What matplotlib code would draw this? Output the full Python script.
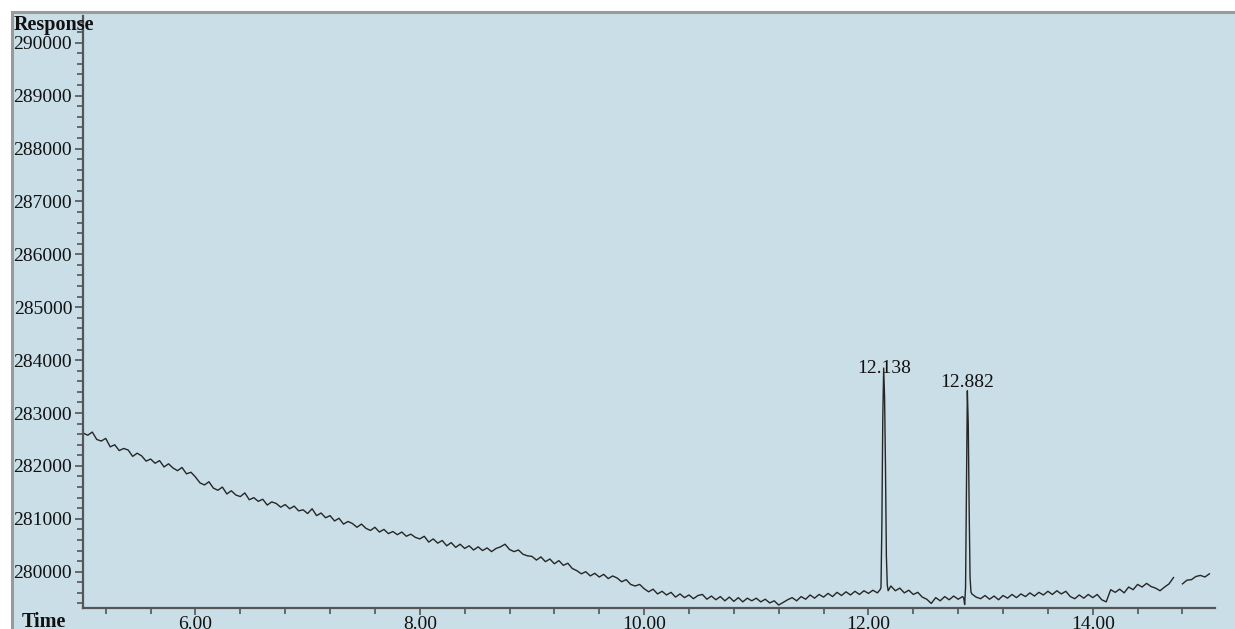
import numpy as np
import matplotlib
matplotlib.use('Agg')
from matplotlib import pyplot as plt
from matplotlib.patches import Rectangle
from matplotlib.ticker import MultipleLocator, FormatStrFormatter

# baseline trace, one value every 0.04 min starting at 5.00
base_start = 5.00
base_step = 0.04
base_resp = [
    # 5.00 - 5.96
    282620, 282580, 282640, 282500, 282470, 282520, 282360, 282400, 282290, 282330,
    282300, 282180, 282240, 282190, 282090, 282130, 282050, 282100, 281980, 282040,
    281960, 281910, 281970, 281850, 281880,
    # 6.00 - 6.96
    281790, 281680, 281640, 281700, 281580, 281540, 281600, 281470, 281530, 281450,
    281420, 281490, 281360, 281400, 281330, 281370, 281260, 281320, 281290, 281220,
    281270, 281190, 281240, 281150, 281170,
    # 7.00 - 7.96
    281100, 281190, 281060, 281110, 281020, 281060, 280960, 281010, 280900, 280950,
    280910, 280840, 280900, 280820, 280780, 280840, 280750, 280800, 280720, 280760,
    280700, 280750, 280670, 280710, 280650,
    # 8.00 - 8.96
    280620, 280670, 280560, 280620, 280540, 280590, 280490, 280550, 280460, 280520,
    280440, 280490, 280410, 280470, 280400, 280450, 280380, 280440, 280470, 280520,
    280420, 280380, 280410, 280330, 280300,
    # 9.00 - 9.96
    280290, 280220, 280280, 280190, 280240, 280150, 280210, 280120, 280160, 280060,
    280020, 279960, 280000, 279920, 279970, 279900, 279950, 279870, 279920, 279880,
    279810, 279850, 279760, 279730, 279760,
    # 10.00 - 10.96
    279680, 279620, 279670, 279580, 279630, 279560, 279610, 279520, 279580, 279510,
    279560, 279490, 279550, 279570, 279480, 279540, 279470, 279530, 279450, 279520,
    279440, 279510, 279430, 279500, 279450,
    # 11.00 - 11.96
    279500, 279430, 279480, 279410, 279450, 279370, 279420, 279470, 279510, 279450,
    279530, 279480, 279560, 279500, 279570, 279520, 279590, 279530, 279610, 279550,
    279620, 279560, 279630, 279570, 279640,
    # 12.00 - 12.96
    279590, 279650, 279600, 279650, 279660, 279730, 279640, 279690, 279600, 279650,
    279570, 279610, 279520, 279480, 279400, 279510, 279450, 279530, 279470, 279540,
    279480, 279530, 279500, 279590, 279520,
    # 13.00 - 13.96
    279490, 279550, 279480, 279540, 279470, 279550, 279500, 279570, 279510, 279580,
    279530, 279600, 279540, 279610, 279560, 279630, 279570, 279640, 279580, 279630,
    279530, 279490, 279560, 279500, 279570,
    # 14.00 - 14.96
    279510, 279570, 279470, 279430, 279660, 279610, 279670, 279600, 279710, 279660,
    279760, 279710, 279780, 279720, 279690, 279640, 279710, 279770, 279890, np.nan,
    279770, 279840, 279850, 279910, 279930,
    # 15.00 - 15.04
    279900, 279960,
]

# the two peaks, sampled more finely
peak_time = [12.104, 12.112, 12.120, 12.128, 12.136, 12.144, 12.152, 12.160, 12.168, 12.176,
             12.850, 12.858, 12.866, 12.874, 12.882, 12.890, 12.898, 12.906, 12.914, 12.922]
peak_resp = [279660, 279700, 280900, 282900, 283850, 283300, 282000, 280300, 279750, 279640,
             279500, 279380, 279700, 281500, 283420, 282800, 281200, 279900, 279620, 279580]
peak_windows = [(12.100, 12.180), (12.846, 12.926)]

peak_labels = ['12.138', '12.882']
label_time = [12.138, 12.882]
label_resp = [283760, 283500]

base_time = base_start + base_step * np.arange(len(base_resp))
base_resp = np.array(base_resp, dtype=float)
keep = np.ones(len(base_time), dtype=bool)
for lo, hi in peak_windows:
    keep &= ~((base_time >= lo) & (base_time <= hi))

time = np.concatenate([base_time[keep], peak_time])
resp = np.concatenate([base_resp[keep], peak_resp])
order = np.argsort(time)
time = time[order]
resp = resp[order]

W, H = 1235, 629
bg = '#c9dee6'
plt.rcParams['font.family'] = ['Liberation Serif', 'DejaVu Serif']

fig = plt.figure(figsize=(W / 100, H / 100), dpi=100, facecolor='white')
# light blue panel with the grey frame on top and left
fig.patches.append(Rectangle((12 / W, -0.2), 1.5, 1 - 12 / H + 0.2, transform=fig.transFigure,
                             facecolor=bg, edgecolor='#9a9a9a', linewidth=2.2, zorder=-10))

ax = fig.add_axes([83.3 / W, 21 / H, (1215 - 83.3) / W, (608 - 16) / H])
ax.set_zorder(5)
ax.set_facecolor('none')
ax.plot(time, resp, color='#262626', linewidth=1.0)

for lab, t, r in zip(peak_labels, label_time, label_resp):
    ax.text(t, r, lab, ha='center', va='baseline', fontsize=14, color='#111111')

ax.set_xlim(5.0, 15.09)
ax.set_ylim(279314, 290505)

ax.xaxis.set_major_locator(MultipleLocator(2.0))
ax.xaxis.set_minor_locator(MultipleLocator(0.4))
ax.xaxis.set_major_formatter(FormatStrFormatter('%.2f'))
ax.yaxis.set_major_locator(MultipleLocator(1000))
ax.yaxis.set_minor_locator(MultipleLocator(200))
ax.yaxis.set_major_formatter(FormatStrFormatter('%d'))

for side in ['top', 'right']:
    ax.spines[side].set_visible(False)
for side in ['left', 'bottom']:
    ax.spines[side].set_color('#555555')
    ax.spines[side].set_linewidth(1.6)

ax.tick_params(which='major', length=6, width=1.2, color='#555555', labelsize=14,
               labelcolor='#111111', pad=2)
ax.tick_params(axis='x', which='major', length=5, pad=0.5)
ax.tick_params(which='minor', length=4, width=1.2, color='#555555')

fig.text(14 / W, 1 - 25 / H, 'Response', fontsize=14.5, fontweight='bold',
         ha='left', va='center', color='#111111', zorder=10)
fig.text(22 / W, 2 / H, 'Time', fontsize=14.5, fontweight='bold',
         ha='left', va='baseline', color='#111111', zorder=10)

fig.savefig('out.png', dpi=100, facecolor='white')
